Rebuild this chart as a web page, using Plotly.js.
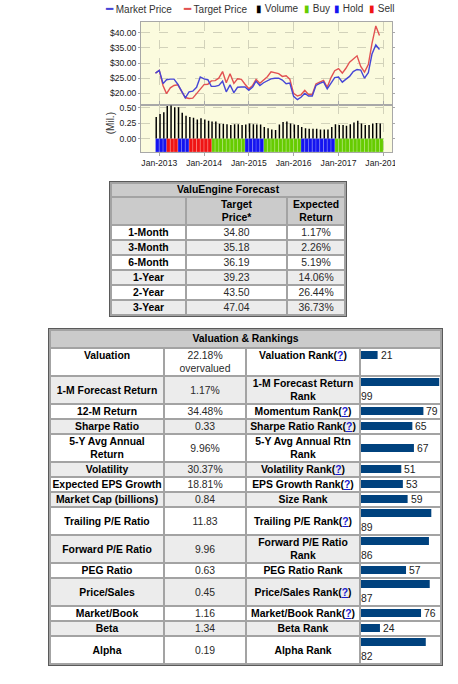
<!DOCTYPE html>
<html><head><meta charset="utf-8">
<script src="https://cdn.plot.ly/plotly-3.0.1.min.js"></script>
<style>
html,body{margin:0;padding:0;background:#fff;width:458px;height:684px;overflow:hidden;}
#chart{position:absolute;left:100px;top:0;width:295px;height:170px;overflow:hidden;}
table.vt{position:absolute;border-collapse:separate;border-spacing:2px;background:#a3a3a3;border:1px solid #5a5a5a;font-family:"Liberation Sans",Arial,sans-serif;font-size:10.4px;}
table.vt td{padding:0;line-height:13px;text-align:center;vertical-align:middle;white-space:nowrap;color:#2a2a2a;background:#fff;}
table.vt td.lb{font-weight:bold;color:#000;}
table.vt tr.alt td{background:#ececec;}
table.vt tr.hd td{background:#cbcbcb;font-weight:bold;color:#000;}
table.vt td.rk{text-align:left;background:#fff !important;}
table.vt tr.top td{vertical-align:top;}
.q{color:#1a1acc;text-decoration:underline;font-weight:bold;}
.rkplot{width:79px;}
</style></head>
<body>
<div id="chart"></div>
<table class="vt" id="ft" style="left:109px;top:181px"></table>
<table class="vt" id="vt" style="left:48px;top:328px"></table>
<script>
// ---------- chart data ----------
const months = ["2012-12-01",
 "2013-01-01","2013-02-01","2013-03-01","2013-04-01","2013-05-01","2013-06-01","2013-07-01","2013-08-01","2013-09-01","2013-10-01","2013-11-01","2013-12-01",
 "2014-01-01","2014-02-01","2014-03-01","2014-04-01","2014-05-01","2014-06-01","2014-07-01","2014-08-01","2014-09-01","2014-10-01","2014-11-01","2014-12-01",
 "2015-01-01","2015-02-01","2015-03-01","2015-04-01","2015-05-01","2015-06-01","2015-07-01","2015-08-01","2015-09-01","2015-10-01","2015-11-01","2015-12-01",
 "2016-01-01","2016-02-01","2016-03-01","2016-04-01","2016-05-01","2016-06-01","2016-07-01","2016-08-01","2016-09-01","2016-10-01","2016-11-01","2016-12-01",
 "2017-01-01","2017-02-01","2017-03-01","2017-04-01","2017-05-01","2017-06-01","2017-07-01","2017-08-01","2017-09-01","2017-10-01","2017-11-01","2017-12-01"];
const marketPrice = [26.7,
 27.6,23.2,24.5,24.7,24.7,23.0,20.8,18.5,20.5,20.7,22.0,25.4,
 24.8,24.5,22.3,22.3,22.6,24.0,20.5,22.8,20.2,22.0,22.1,22.1,
 21.0,22.1,24.0,22.6,23.5,24.3,24.8,25.0,25.0,24.4,23.2,23.4,
 19.0,17.9,18.7,20.0,19.1,19.1,22.6,23.3,23.8,21.5,23.5,25.2,
 25.4,23.7,24.6,25.6,27.2,27.9,27.7,25.0,26.8,33.0,36.0,34.5];
const targetPrice = [26.7,
 27.6,22.5,19.9,21.8,22.6,22.8,20.8,18.6,18.3,18.4,19.9,21.5,
 22.9,23.0,24.1,24.2,25.0,27.2,23.5,26.5,23.3,24.8,24.6,23.0,
 21.5,22.6,24.6,23.3,24.3,25.5,27.1,26.8,26.5,25.6,25.8,24.7,
 20.0,19.1,19.5,21.0,19.6,19.6,23.1,23.7,24.3,22.0,25.2,27.5,
 28.2,26.7,28.2,30.3,31.3,32.4,28.9,27.0,29.5,36.5,42.3,39.1];
const volume = [0.35,
 0.40,0.43,0.53,0.54,0.51,0.51,0.42,0.37,0.35,0.34,0.31,0.33,
 0.31,0.29,0.28,0.28,0.24,0.24,0.235,0.22,0.235,0.235,0.22,0.23,
 0.245,0.235,0.23,0.23,0.19,0.17,0.15,0.14,0.23,0.27,0.28,0.245,
 0.23,0.22,0.19,0.17,0.16,0.16,0.16,0.15,0.15,0.15,0.19,0.235,
 0.22,0.22,0.21,0.235,0.26,0.29,0.245,0.22,0.22,0.245,0.255,0.245];
const ratings = ["Hold",
 "Hold","Hold","Sell","Sell","Sell","Hold","Hold","Hold","Sell","Sell","Sell","Sell",
 "Sell","Sell","Buy","Buy","Buy","Buy","Buy","Buy","Buy","Buy","Buy","Hold",
 "Hold","Hold","Hold","Hold","Buy","Buy","Buy","Buy","Buy","Buy","Buy","Buy",
 "Buy","Buy","Hold","Hold","Hold","Hold","Hold","Hold","Hold","Hold","Hold","Buy",
 "Buy","Buy","Buy","Buy","Buy","Buy","Buy","Buy","Buy","Buy","Buy","Buy"];
const ratingNames = ["Buy","Hold","Sell"];
const legendLabels = ["Market Price","Target Price","Volume","Buy","Hold","Sell"];

// ---------- table data ----------
const forecastTitle = "ValuEngine Forecast";
const forecastHeaders = ["", "Target<br>Price*", "Expected<br>Return"];
const forecastPeriods = ["1-Month","3-Month","6-Month","1-Year","2-Year","3-Year"];
const forecastTarget = [34.80,35.18,36.19,39.23,43.50,47.04];
const forecastReturn = [1.17,2.26,5.19,14.06,26.44,36.73];

const valuationTitle = "Valuation &amp; Rankings";
const metricLabels = ["Valuation","1-M Forecast Return","12-M Return","Sharpe Ratio","5-Y Avg Annual<br>Return","Volatility","Expected EPS Growth","Market Cap (billions)","Trailing P/E Ratio","Forward P/E Ratio","PEG Ratio","Price/Sales","Market/Book","Beta","Alpha"];
const metricValues = ["22.18%<br>overvalued","1.17%","34.48%","0.33","9.96%","30.37%","18.81%","0.84","11.83","9.96","0.63","0.45","1.16","1.34","0.19"];
const rankLabels = ["Valuation Rank(?)","1-M Forecast Return<br>Rank","Momentum Rank(?)","Sharpe Ratio Rank(?)","5-Y Avg Annual Rtn<br>Rank","Volatility Rank(?)","EPS Growth Rank(?)","Size Rank","Trailing P/E Rank(?)","Forward P/E Ratio<br>Rank","PEG Ratio Rank","Price/Sales Rank(?)","Market/Book Rank(?)","Beta Rank","Alpha Rank"];
const rankValues = [21,99,79,65,67,51,53,59,89,86,57,87,76,24,82];

// ---------- main chart ----------
const DAY = 86400000;
const C = {market:'#4646d6', target:'#e25252', vol:'#000000', Buy:'#66cc00', Hold:'#1414f0', Sell:'#f01414'};
const VOL_MIN = -0.218, VOL_MAX = 0.554;
const traces = [];
ratingNames.forEach(function(r){
  const xs = months.filter(function(m,i){return ratings[i]===r;});
  traces.push({type:'bar', name:r, x:xs, y:xs.map(function(){return VOL_MIN;}), xaxis:'x', yaxis:'y2',
    width:31*DAY, offset:0, marker:{color:C[r], line:{color:'rgba(255,255,255,0.35)', width:0.6}}, hoverinfo:'skip'});
});
traces.push({type:'bar', name:'Volume', x:months, y:volume, xaxis:'x', yaxis:'y2', width:12*DAY, offset:0,
  marker:{color:C.vol}, hoverinfo:'skip'});
traces.push({type:'scatter', mode:'lines', name:'Target Price', x:months, y:targetPrice, xaxis:'x', yaxis:'y',
  line:{color:C.target, width:1.4}});
traces.push({type:'scatter', mode:'lines', name:'Market Price', x:months, y:marketPrice, xaxis:'x', yaxis:'y',
  line:{color:C.market, width:1.4}});

// pixel helpers (chart div at page x=100)
const ML=41, MT=22, PW=251, PH=130;
function px(absX){return (absX-100-ML)/PW;}
function py(absY){return (MT+PH-absY)/PH;}
const legendSyms = [
  {s:'━', c:C.market, size:12, x:103},
  {s:'━', c:C.target, size:12, x:181},
  {s:'▮', c:C.vol, size:10, x:254},
  {s:'▮', c:C.Buy, size:10, x:302},
  {s:'▮', c:C.Hold, size:10, x:332},
  {s:'▮', c:C.Sell, size:10, x:367}];
const annotations = legendLabels.map(function(lab,i){
  const L = legendSyms[i];
  return {xref:'paper', yref:'paper', x:px(L.x), y:py(9), xanchor:'left', yanchor:'middle', showarrow:false,
    text:'<span style="color:'+L.c+';font-size:'+L.size+'px">'+L.s+'</span> '+lab,
    font:{family:'Liberation Sans, Arial, sans-serif', size:10, color:'#333'}};
});
annotations.push({xref:'paper', yref:'y2', x:px(110), y:0.25, xanchor:'center', yanchor:'middle', showarrow:false,
  textangle:-90, text:'(Mil.)', font:{family:'Liberation Sans, Arial, sans-serif', size:10, color:'#333'}});

const GRID = '#d2d2ba', LINE = '#a8a8a8';
const layout = {
  width:295, height:170, margin:{l:ML, r:3, t:MT, b:18, pad:0},
  paper_bgcolor:'#ffffff', plot_bgcolor:'#fbfbde', showlegend:false, barmode:'overlay',
  font:{family:'Liberation Sans, Arial, sans-serif', size:8.6, color:'#1a1a1a'},
  xaxis:{type:'date', range:['2012-08-05','2018-03-13'], anchor:'y2', tick0:'2013-01-01', dtick:'M12', tickformat:'%b-%Y',
    ticklabeloverflow:'allow',
    showgrid:true, gridcolor:GRID, griddash:'dash', gridwidth:1, showline:true, mirror:'all', linecolor:LINE, linewidth:1,
    ticks:'outside', ticklen:3, tickcolor:LINE, zeroline:false, fixedrange:true},
  yaxis:{domain:[0.365,1], range:[16.28,43.6], tick0:0, dtick:5, tickprefix:'$', tickformat:'.2f',
    showgrid:true, gridcolor:GRID, griddash:'dash', showline:true, mirror:'all', linecolor:LINE,
    ticks:'outside', ticklen:2, tickcolor:LINE, zeroline:false, fixedrange:true},
  yaxis2:{domain:[0,0.365], range:[VOL_MIN,VOL_MAX], tick0:0, dtick:0.25, tickformat:'.2f',
    showgrid:true, gridcolor:GRID, griddash:'dash', showline:true, mirror:'all', linecolor:LINE,
    ticks:'outside', ticklen:2, tickcolor:LINE, zeroline:false, fixedrange:true},
  annotations:annotations
};
Plotly.newPlot('chart', traces, layout, {staticPlot:true, displayModeBar:false});

// ---------- forecast table ----------
(function(){
  let h = '<colgroup><col style="width:73px"><col style="width:99px"><col style="width:56px"></colgroup>';
  h += '<tr class="hd"><td colspan="3" style="line-height:12px">'+forecastTitle+'</td></tr>';
  h += '<tr class="hd">'+forecastHeaders.map(function(t){return '<td>'+t+'</td>';}).join('')+'</tr>';
  forecastPeriods.forEach(function(p,i){
    h += '<tr'+(i%2?' class="alt"':'')+'><td class="lb">'+p+'</td><td>'+forecastTarget[i].toFixed(2)+'</td><td>'+forecastReturn[i].toFixed(2)+'%</td></tr>';
  });
  document.getElementById('ft').innerHTML = h;
})();

// ---------- valuation table ----------
const RANK_W = 79;
(function(){
  let h = '<colgroup><col style="width:112px"><col style="width:80px"><col style="width:112px"><col style="width:'+RANK_W+'px"></colgroup>';
  h += '<tr class="hd"><td colspan="4" style="line-height:16px">'+valuationTitle+'</td></tr>';
  metricLabels.forEach(function(lab,i){
    const cls = [];
    if (i%2) cls.push('alt');
    if (i===0) cls.push('top');
    const rl = rankLabels[i].replace('(?)','(<span class="q">?</span>)');
    h += '<tr'+(cls.length?' class="'+cls.join(' ')+'"':'')+'><td class="lb">'+lab+'</td><td>'+metricValues[i]+'</td><td class="lb">'+rl+'</td><td class="rk"><div class="rkplot" id="rk'+i+'"></div></td></tr>';
  });
  document.getElementById('vt').innerHTML = h;
})();

// ---------- rank bars ----------
const ctx = document.createElement('canvas').getContext('2d');
ctx.font = '10.4px "Liberation Sans"';
rankValues.forEach(function(r,i){
  const div = document.getElementById('rk'+i);
  const tw = ctx.measureText(String(r)).width;
  const fits = r/100*RANK_W + 4 + tw <= RANK_W;
  const H = fits ? 13 : 26;
  div.style.height = H+'px';
  Plotly.newPlot(div, [{type:'bar', orientation:'h', x:[r], y:[fits?6:5], width:8, marker:{color:'#00427e'}, hoverinfo:'skip'}], {
    width:RANK_W, height:H, margin:{l:0,r:0,t:0,b:0,pad:0},
    paper_bgcolor:'rgba(0,0,0,0)', plot_bgcolor:'rgba(0,0,0,0)', showlegend:false,
    xaxis:{range:[0,100], visible:false, fixedrange:true},
    yaxis:{range:[H,0], visible:false, fixedrange:true},
    annotations:[{text:String(r), xref:'x', yref:'y', x:fits?r:0, y:fits?6.5:19.5, xanchor:'left', yanchor:'middle',
      xshift:fits?2:-1, showarrow:false, borderpad:0,
      font:{family:'Liberation Sans, Arial, sans-serif', size:10.4, color:'#222'}}]
  }, {staticPlot:true, displayModeBar:false});
});
</script>
</body></html>
